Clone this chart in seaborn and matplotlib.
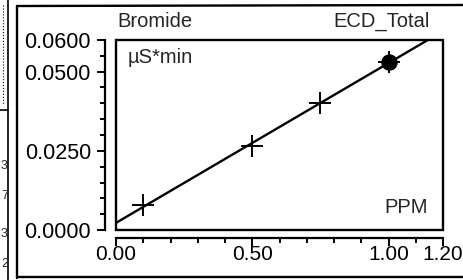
import numpy as np
import pandas as pd
import matplotlib
matplotlib.use("Agg")
import matplotlib.pyplot as plt
from matplotlib.patches import Rectangle
from matplotlib.lines import Line2D
from matplotlib.ticker import MultipleLocator, FixedLocator, FormatStrFormatter
import seaborn as sns

# calibration standards
ppm = [0.10, 0.50, 0.75, 1.00]
area = [0.0079, 0.0264, 0.0401, 0.0532]
# current sample (filled dot)
sample_ppm = [1.00]
sample_area = [0.0532]

x_ticks = [0.0, 0.5, 1.0, 1.2]
y_ticks = [0.0, 0.025, 0.05, 0.06]
left_cut_digits = ["3", "7", "3", "2"]

df = pd.DataFrame({"PPM": ppm, "area": area})
sample_df = pd.DataFrame({"PPM": sample_ppm, "area": sample_area})

sns.set_style("ticks")
plt.rcParams["font.family"] = ["Liberation Sans", "DejaVu Sans"]
plt.rcParams["font.size"] = 14.5

W, H = 463, 280
fig = plt.figure(figsize=(W / 100, H / 100), dpi=100)
ax = fig.add_axes([116 / W, 1 - 230 / H, (443 - 116) / W, (230 - 40) / H])
ax.set_xlim(0, 1.2)
ax.set_ylim(0, 0.06)

# calibration line, extended to the axis limits
sns.regplot(data=df, x="PPM", y="area", ax=ax, scatter=False, ci=None,
            truncate=False, color="black", line_kws={"lw": 1.7})
sns.scatterplot(data=sample_df, x="PPM", y="area", ax=ax, color="black",
                s=120, edgecolor="black", zorder=4, legend=False)
sns.scatterplot(data=df, x="PPM", y="area", ax=ax, marker="+", color="black",
                s=240, linewidth=1.4, zorder=5, legend=False)
ax.set_xlim(0, 1.2)
ax.set_ylim(0, 0.06)
ax.set_xlabel("")
ax.set_ylabel("")

# detached axis lines, framed plot box
for side in ["top", "right"]:
    ax.spines[side].set_visible(False)
ax.spines["left"].set_position(("outward", 8))
ax.spines["bottom"].set_position(("outward", 6))
for side in ["left", "bottom"]:
    ax.spines[side].set_linewidth(1.6)
    ax.spines[side].set_color("black")
ax.add_patch(Rectangle((0, 0), 1, 1, transform=ax.transAxes, fill=False,
                       lw=1.7, ec="black", clip_on=False, zorder=6))

ax.xaxis.set_major_locator(FixedLocator(x_ticks))
ax.xaxis.set_minor_locator(MultipleLocator(0.1))
ax.yaxis.set_major_locator(FixedLocator(y_ticks))
ax.yaxis.set_minor_locator(MultipleLocator(0.005))
ax.xaxis.set_major_formatter(FormatStrFormatter("%.2f"))
ax.yaxis.set_major_formatter(FormatStrFormatter("%.4f"))
ax.tick_params(which="major", length=6, width=1.4, color="black", labelcolor="black")
ax.tick_params(which="minor", length=3.5, width=1.4, color="black")
ax.tick_params(axis="x", which="major", pad=-1, labelsize=15)
ax.tick_params(axis="y", which="major", pad=4, labelsize=15.5)

ax.text(0.005, 1.045, "Bromide", transform=ax.transAxes, ha="left", va="bottom")
ax.text(0.96, 1.045, "ECD_Total", transform=ax.transAxes, ha="right", va="bottom")
ax.text(0.035, 0.91, "µS*min", transform=ax.transAxes, ha="left", va="center")
ax.text(0.955, 0.12, "PPM", transform=ax.transAxes, ha="right", va="center")

# scan leftovers: outer frame and a clipped neighbouring table
def px_line(x0, y0, x1, y1, **kw):
    fig.add_artist(Line2D([x0 / W, x1 / W], [1 - y0 / H, 1 - y1 / H],
                          transform=fig.transFigure, color="black", **kw))

px_line(17, 6, 17, 278, lw=1.7)
px_line(17, 6, W, 5, lw=1.7)
px_line(17, 277, W, 277, lw=1.7)
px_line(8, 0, 8, 280, lw=1.2)
px_line(0, 110, 8, 110, lw=1.2)
px_line(3, 5, 3, 105, lw=0.8, ls=":")
for ypix, d in zip([166, 196, 234, 264], left_cut_digits):
    fig.text(1 / W, 1 - ypix / H, d, ha="left", va="center", fontsize=9)

fig.savefig("out.png", dpi=100)
